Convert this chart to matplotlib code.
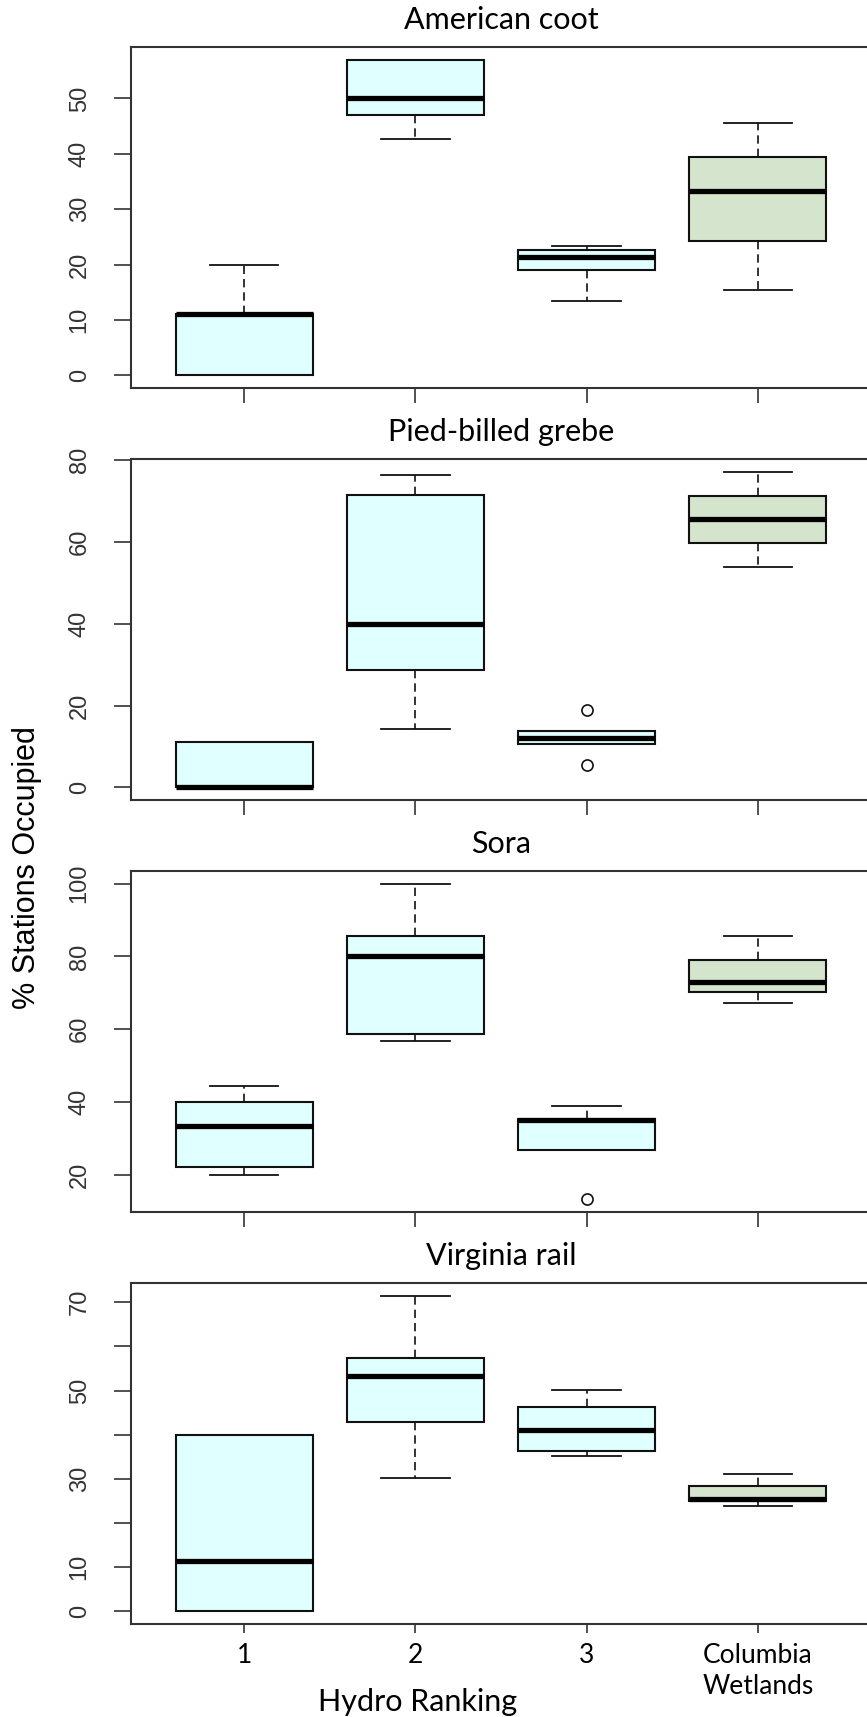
import matplotlib

matplotlib.use("Agg")
import matplotlib.pyplot as plt

# box statistics (whisker low, Q1, median, Q3, whisker high, outliers)
categories = ["1", "2", "3", "Columbia\nWetlands"]

coot_lo = [0.0, 42.7, 13.4, 15.5]
coot_q1 = [0.0, 47.0, 19.0, 24.2]
coot_med = [11.1, 50.0, 21.3, 33.3]
coot_q3 = [11.1, 57.0, 22.7, 39.5]
coot_hi = [20.0, 57.0, 23.3, 45.6]
coot_out = [[], [], [], []]

grebe_lo = [0.0, 14.2, 10.6, 53.8]
grebe_q1 = [0.0, 28.6, 10.6, 59.8]
grebe_med = [0.0, 40.0, 12.0, 65.7]
grebe_q3 = [11.0, 71.6, 13.9, 71.3]
grebe_hi = [11.0, 76.4, 13.9, 77.2]
grebe_out = [[], [], [18.9, 5.4], []]

sora_lo = [20.0, 56.8, 26.7, 67.1]
sora_q1 = [22.1, 58.7, 26.7, 70.1]
sora_med = [33.3, 80.0, 35.0, 72.9]
sora_q3 = [39.9, 85.7, 35.4, 79.1]
sora_hi = [44.4, 100.0, 39.0, 85.7]
sora_out = [[], [], [13.2], []]

rail_lo = [0.0, 30.1, 35.2, 23.9]
rail_q1 = [0.0, 42.9, 36.3, 24.9]
rail_med = [11.3, 53.2, 41.0, 25.5]
rail_q3 = [40.0, 57.3, 46.2, 28.5]
rail_hi = [40.0, 71.5, 50.2, 31.2]
rail_out = [[], [], [], []]

coot_ticks = [0, 10, 20, 30, 40, 50]
grebe_ticks = [0, 20, 40, 60, 80]
sora_ticks = [20, 40, 60, 80, 100]
rail_ticks = [0, 10, 20, 30, 40, 50, 60, 70]
rail_ticklabels = ["0", "10", "", "30", "", "50", "", "70"]

panels = [
    ("American coot", coot_lo, coot_q1, coot_med, coot_q3, coot_hi, coot_out, coot_ticks, None),
    ("Pied-billed grebe", grebe_lo, grebe_q1, grebe_med, grebe_q3, grebe_hi, grebe_out, grebe_ticks, None),
    ("Sora", sora_lo, sora_q1, sora_med, sora_q3, sora_hi, sora_out, sora_ticks, None),
    ("Virginia rail", rail_lo, rail_q1, rail_med, rail_q3, rail_hi, rail_out, rail_ticks, rail_ticklabels),
]

box_colors = ["#E0FFFF", "#E0FFFF", "#E0FFFF", "#D5E4CC"]

W, H = 867, 1717
fig = plt.figure(figsize=(W / 100, H / 100), dpi=100)

# axes frames in pixels (left, right, top of first panel, height, step between panels)
left_px, right_px = 131, 871
top0_px, height_px, step_px = 47, 341, 412

for i, (title, lo, q1, med, q3, hi, out, ticks, ticklabels) in enumerate(panels):
    top = top0_px + i * step_px
    ax = fig.add_axes(
        [left_px / W, 1 - (top + height_px) / H, (right_px - left_px) / W, height_px / H]
    )

    stats = []
    for k in range(len(categories)):
        stats.append(
            {"whislo": lo[k], "q1": q1[k], "med": med[k], "q3": q3[k],
             "whishi": hi[k], "fliers": out[k]}
        )

    bp = ax.bxp(
        stats,
        positions=[1, 2, 3, 4],
        widths=0.8,
        capwidths=0.4,
        patch_artist=True,
        showfliers=True,
        boxprops=dict(edgecolor="#111111", linewidth=1.5),
        medianprops=dict(color="black", linewidth=3.8, solid_capstyle="butt"),
        whiskerprops=dict(color="#111111", linewidth=1.2, linestyle=(0, (5, 3))),
        capprops=dict(color="#111111", linewidth=1.3),
        flierprops=dict(marker="o", markerfacecolor="none", markeredgecolor="#111111",
                        markersize=8, markeredgewidth=1.2),
    )
    for patch, c in zip(bp["boxes"], box_colors):
        patch.set_facecolor(c)

    # R style limits: 4% beyond the data range
    vals = lo + hi + [v for o in out for v in o]
    vmin, vmax = min(vals), max(vals)
    padv = 0.04 * (vmax - vmin)
    ax.set_ylim(vmin - padv, vmax + padv)
    ax.set_xlim(0.34, 4.66)

    ax.set_yticks(ticks)
    if ticklabels is not None:
        ax.set_yticklabels(ticklabels)
    ax.tick_params(axis="y", direction="out", length=12, width=1.2, pad=17,
                   labelsize=17, labelrotation=90, labelcolor="#333333", color="#333333")
    for lbl in ax.get_yticklabels():
        lbl.set_family("Liberation Sans")
        lbl.set_va("center")

    ax.set_xticks([1, 2, 3, 4])
    if i == len(panels) - 1:
        ax.set_xticklabels(categories, family="Lato", fontsize=19, linespacing=1.3)
        ax.tick_params(axis="x", length=6.5, width=1.2, pad=7, color="#333333")
    else:
        ax.set_xticklabels([])
        ax.tick_params(axis="x", length=11, width=1.2, color="#333333")

    for sp in ax.spines.values():
        sp.set_color("#333333")
        sp.set_linewidth(1.5)

    ax.set_title(title, family="Lato", fontsize=22, pad=13)

fig.text(27 / W, 1 - 868 / H, "% Stations Occupied", rotation=90, ha="center", va="center",
         family="Liberation Sans", fontsize=22)
fig.text(418 / W, 1 - 1702 / H, "Hydro Ranking", ha="center", va="center",
         family="Lato", fontsize=22)

fig.savefig("out.png", dpi=100)
